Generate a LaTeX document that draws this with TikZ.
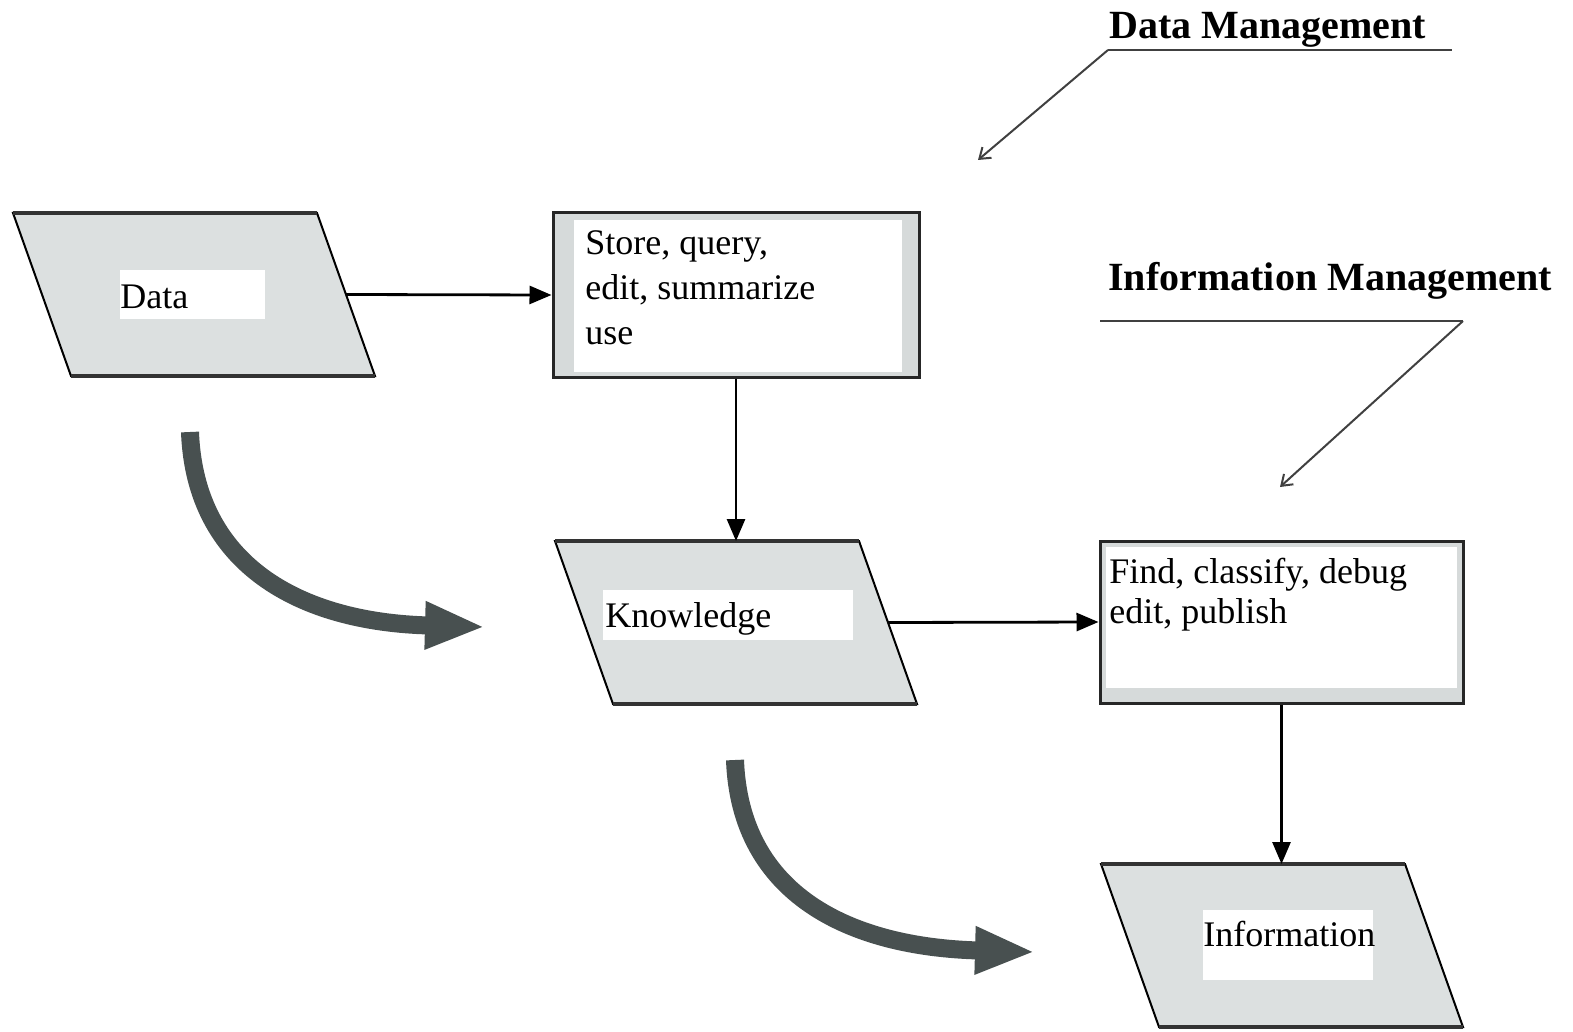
\documentclass[tikz,border=0pt]{standalone}
\usepackage{fontspec}
\setmainfont{Liberation Serif}
\usetikzlibrary{calc, positioning}
\usetikzlibrary{arrows.meta}

\definecolor{paragray}{RGB}{220,224,224}
\definecolor{framegray}{RGB}{214,218,218}
\definecolor{curvegray}{RGB}{72,80,80}

\tikzset{
  para/.style={fill=paragray, draw=black, line width=1pt},
  paraedge/.style={draw=black!80, line width=2pt},
  procbox/.style={draw=black!85, line width=1.5pt, fill=framegray, minimum width=183pt, minimum height=82pt, inner sep=0pt},
  flow/.style={-{Triangle[length=11pt,width=9pt]}, line width=1.4pt},
  sweep/.style={-{Triangle[length=30pt,width=22pt]}, line width=9pt, draw=curvegray},
  leader/.style={-{Straight Barb[length=5pt,width=7pt]}, line width=1pt, draw=black!75},
  txt/.style={font=\fontsize{18}{22.5}\selectfont, inner sep=0pt, align=left},
  headtext/.style={font=\bfseries\fontsize{20}{24}\selectfont, inner sep=0pt},
}

\begin{document}
\begin{tikzpicture}[x=0.5pt, y=-0.5pt]
\useasboundingbox (0,0) rectangle (1573,1032);
\def\pw{304}
\def\ph{163}
\def\ps{58}

\foreach \n/\x/\y in {data/13/213, know/555/541, info/1101/864} {
  \coordinate (\n-nw) at (\x,\y);
  \coordinate (\n-ne) at (\x+\pw,\y);
  \coordinate (\n-se) at (\x+\pw+\ps,\y+\ph);
  \coordinate (\n-sw) at (\x+\ps,\y+\ph);
  \draw[para] (\n-nw) -- (\n-ne) -- (\n-se) -- (\n-sw) -- cycle;
  \draw[paraedge] (\n-nw) -- (\n-ne) (\n-sw) -- (\n-se);
}

\fill[white] (120,270) rectangle (265,319);
\fill[white] (603,590) rectangle (853,640);
\fill[white] (1203,910) rectangle (1373,980);
\node[txt, anchor=base west] (datatxt) at (120,308) {Data};
\node[txt, anchor=base west] (knowtxt) at (605,627) {Knowledge};
\node[txt, anchor=base west] (infotxt) at (1203,946) {Information};

\node[procbox] (store) at (736,295) {};
\fill[white] ([shift={(22,9)}]store.north west) rectangle ([shift={(-19,-7)}]store.south east);
\node[txt, anchor=north west] (storetxt) at (585,230) {Store, query,\\edit, summarize\\use};

\node[procbox, minimum width=181.5pt, minimum height=81pt] (find) at (1281.5,622) {};
\fill[white] ([shift={(7,7)}]find.north west) rectangle ([shift={(-8,-17)}]find.south east);
\node[txt, font=\fontsize{18}{20}\selectfont, anchor=north west] (findtxt) at (1109,558) {Find, classify, debug\\edit, publish};

\draw[flow] ($(data-ne)!0.5!(data-se)$) -- (store.west);
\draw[flow] (store.south) -- (store.south |- know-nw);
\draw[flow] ($(know-ne)!0.5!(know-se)$) -- (find.west);
\draw[flow] (find.south) -- (find.south |- info-nw);

\draw[sweep] (190,432) .. controls (195,565) and (300,622) .. (485,627);
\draw[sweep] (735,760) .. controls (740,895) and (850,947) .. (1035,952);

\node[headtext] (dmtitle) at (1268,30) {Data Management};
\node[headtext] (imtitle) at (1330,281) {Information Management};
\coordinate (dmknee) at (1108,50);
\coordinate (dmend) at (1452,50);
\coordinate (dmtip) at (978,160);
\coordinate (imstart) at (1100,321);
\coordinate (imknee) at (1463,321);
\coordinate (imtip) at (1280,487);
\draw[line width=1.2pt, black!75] (dmknee) -- (dmend);
\draw[leader] (dmknee) -- (dmtip);
\draw[line width=1.2pt, black!75] (imstart) -- (imknee);
\draw[leader] (imknee) -- (imtip);
\end{tikzpicture}
\end{document}
